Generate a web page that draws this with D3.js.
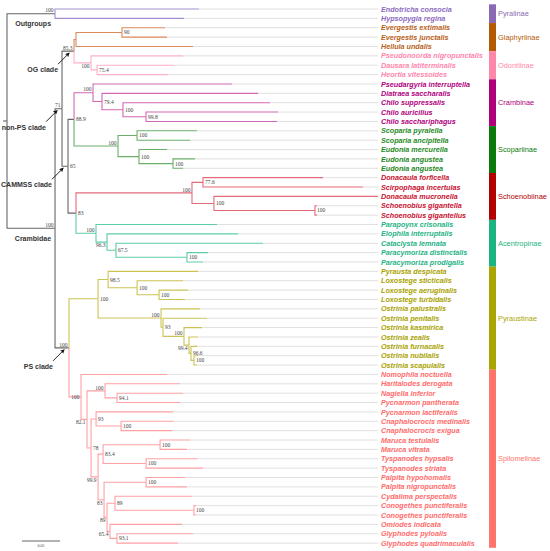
<!DOCTYPE html>
<html>
<head>
<meta charset="utf-8">
<script src="https://cdn.jsdelivr.net/npm/d3@7"></script>
<style>
  body { margin: 0; background: #fff; }
  .branch { fill: none; stroke-width: 1.1px; }
  .guide { stroke: #d8d8d8; stroke-width: 0.8px; }
  .taxon { font: italic bold 7.2px "Liberation Sans", Arial, sans-serif; }
  .support { font: 5.5px "Liberation Serif", "Times New Roman", serif; fill: #444; }
  .group-label { font: 7.4px "Liberation Sans", Arial, sans-serif; }
  .clade-label { font: bold 7px "Liberation Sans", Arial, sans-serif; fill: #333; }
</style>
</head>
<body>
<div id="chart"></div>
<script>
// ML tree, branch lengths in substitutions/site, node labels = bootstrap
const treeNewick = [
  "((Endotricha_consocia:0.1895,Hypsopygia_regina:0.1697)100:0.0632,",
  "(((((Evergestis_extimalis:0.0566,Evergestis_junctalis:0.0592)90:0.0605,Hellula_undalis:0.1539):0.0026,",
  "(Pseudonoorda_nigropunctalis:0.1211,(Dausara_latiterminalis:0.1013,Heortia_vitessoides:0.0934)75.4:0.0079)100:0.0224)85.3:0.0158,",
  "(((Pseudargyria_interruptella:0.1829,(Diatraea_saccharalis:0.2053,(Chilo_suppressalis:0.1934,(Chilo_auricilius:0.1737,Chilo_sacchariphagus:0.1724)99.8:0.0303)100:0.0276)79.4:0.0118)100:0.0250,",
  "((Scoparia_pyralella:0.0789,Scoparia_ancipitella:0.0697)100:0.0250,(Eudonia_mercurella:0.0368,(Eudonia_angustea:0.0289,Eudonia_angustea:0.0132)100:0.0447)100:0.0276)100:0.0579)88.9:0.0079,",
  "(((Donacaula_forficella:0.1579,Scirpophaga_incertulas:0.2105)77.6:0.0145,(Donacaula_mucronella:0.2158,(Schoenobius_gigantella:0.0026,Schoenobius_gigantellus:0.0026)100:0.1329)100:0.0289)100:0.1526,",
  "(Parapoynx_crisonalis:0.1592,(Elophila_interruptalis:0.1724,(Cataclysta_lemnata:0.1934,(Paracymoriza_distinctalis:0.0276,Paracymoriza_prodigalis:0.0211)100:0.0934)67.5:0.0118)96.3:0.0145)100:0.0263)83:0.0105)65:0.0079)71:0.0092,",
  "(((Pyrausta_despicata:0.1184,(Loxostege_sticticalis:0.0605,(Loxostege_aeruginalis:0.0382,Loxostege_turbidalis:0.0342)100:0.0289)100:0.0382)98.5:0.0132,",
  "(Ostrinia_palustralis:0.0513,(Ostrinia_penitalis:0.0579,(Ostrinia_kasmirica:0.0237,(Ostrinia_zealis:0.0118,(Ostrinia_furnacalis:0.0079,(Ostrinia_nubilalis:0.0053,Ostrinia_scapulalis:0.0039)100:0.0039)96.6:0.0026)99.4:0.0066)100:0.0276)93:0.0026)100:0.0829)100:0.0382,",
  "(Nomophila_noctuella:0.1132,((Haritalodes_derogata:0.0987,(Nagiella_inferior:0.0868,Pycnarmon_pantherata:0.0829)94.1:0.0158)100:0.0237,",
  "((Pycnarmon_lactiferalis:0.1013,(Cnaphalocrocis_medinalis:0.0684,Cnaphalocrocis_exigua:0.0671)100:0.0329)93:0.0066,",
  "(((Maruca_testulalis:0.0395,Maruca_vitrata:0.0355)100:0.0750,(Tyspanodes_hypsalis:0.0671,Tyspanodes_striata:0.0750)100:0.0566)83.4:0.0066,",
  "((Palpita_hypohomalis:0.0513,Palpita_nigropunctalis:0.0539)100:0.0553,((Cydalima_perspectalis:0.1013,(Conogethes_punctiferalis:0.0026,Conogethes_punctiferalis:0.0026)100:0.1039)89:0.0105,",
  "(Omiodes_indicata:0.0947,(Glyphodes_pyloalis:0.1000,Glyphodes_quadrimaculalis:0.0803)93.1:0.0092)65.4:0.0039)89:0.0039)83:0.0079)99.9:0.0092)78:0.0053)82.1:0.0079)100:0.0158)100:0.0184)100:0.0632);"
].join("");

const subfamilies = ["Pyralinae", "Glaphyriinae", "Odontiinae", "Crambinae", "Scopariinae",
  "Schoenobiinae", "Acentropinae", "Pyraustinae", "Spilomelinae"];
const subfamilyCounts = [2, 3, 3, 5, 5, 5, 5, 11, 19];

// clades named on the tree, keyed by leaf range
const cladeNotes = [
  { range: "0-1", text: "Outgroups", arrow: false },
  { range: "2-57", text: "Crambidae", arrow: false },
  { range: "2-7", text: "OG clade", arrow: true },
  { range: "2-27", text: "non-PS clade", arrow: true },
  { range: "8-27", text: "CAMMSS clade", arrow: true },
  { range: "28-57", text: "PS clade", arrow: true }
];
const scaleBarValue = 0.05;

// colours per subfamily
const textColors = ["#8c6bbf", "#b8611a", "#ff86ac", "#b0007e", "#1f8a1f", "#c8102e", "#1fb386", "#a9a200", "#ff6b6b"];
const barColors = ["#8a6ab5", "#b35a00", "#ff88aa", "#b0007a", "#0a7a0a", "#b30000", "#1db380", "#aaa400", "#ff756b"];
const branchColors = ["#a48fd3", "#d9895c", "#ffb0c8", "#d366b4", "#6aae6a", "#e46a78", "#5ccda6", "#cbc455", "#ffa0a5"];
const backbone = "#666";

// where each bootstrap value sits: R right of node, La left above, Lb left below, L left
const labelSide = {
  "0-1": "La", "2-57": "La", "2-27": "La", "2-7": "La", "5-7": "Lb", "8-12": "La", "13-17": "La",
  "18-22": "La", "23-27": "La", "24-27": "Lb", "28-57": "La", "32-38": "La", "34-38": "La",
  "35-38": "Lb", "39-57": "L", "40-57": "Lb", "40-42": "La", "46-57": "Lb", "50-57": "Lb",
  "52-57": "Lb", "55-57": "Lb"
};

function parseNewick(s) {
  const ancestors = [];
  let tree = {};
  const tokens = s.split(/\s*(;|\(|\)|,|:)\s*/);
  for (let i = 0; i < tokens.length; i++) {
    const t = tokens[i];
    switch (t) {
      case "(": {
        const sub = {};
        tree.children = [sub];
        ancestors.push(tree);
        tree = sub;
        break;
      }
      case ",": {
        const sub = {};
        ancestors[ancestors.length - 1].children.push(sub);
        tree = sub;
        break;
      }
      case ")":
        tree = ancestors.pop();
        break;
      case ":":
      case ";":
        break;
      default: {
        const prev = tokens[i - 1];
        if (prev === ")" || prev === "(" || prev === ",") tree.name = t;
        else if (prev === ":") tree.length = parseFloat(t);
      }
    }
  }
  return tree;
}

const width = 550;
const height = 551;

const x = d3.scaleLinear().domain([0, scaleBarValue]).range([7, 45]);
const y = d3.scaleLinear().domain([0, 57]).range([9, 543.1]);
const step = y(1) - y(0);
const guideEnd = 378;
const labelX = 381;
const barX = 489;

const leafSub = [];
subfamilyCounts.forEach((n, k) => { for (let i = 0; i < n; i++) leafSub.push(k); });

const root = d3.hierarchy(parseNewick(treeNewick));
root.eachBefore((d) => {
  d.len = d.parent ? d.parent.len + (d.data.length || 0) : 0;
  d.x = x(d.len);
});
root.leaves().forEach((d, i) => { d.idx = i; });
root.eachAfter((d) => {
  if (d.children) {
    const a = d.children[0];
    const b = d.children[d.children.length - 1];
    d.y = (a.y + b.y) / 2;
    d.first = a.first;
    d.last = b.last;
    d.sub = d.children.every((c) => c.sub === a.sub) ? a.sub : -1;
  } else {
    d.y = y(d.idx);
    d.first = d.last = d.idx;
    d.sub = leafSub[d.idx];
  }
});
const byRange = new Map();
root.each((d) => byRange.set(`${d.first}-${d.last}`, d));

const svg = d3.select("#chart").append("svg")
  .attr("width", width)
  .attr("height", height)
  .attr("xmlns", "http://www.w3.org/2000/svg");

svg.append("rect").attr("width", width).attr("height", height).attr("fill", "#fff");

svg.append("defs").append("marker")
  .attr("id", "arrow")
  .attr("viewBox", "0 -5 10 10")
  .attr("refX", 8)
  .attr("markerWidth", 5)
  .attr("markerHeight", 5)
  .attr("orient", "auto")
  .append("path")
  .attr("d", "M0,-5L10,0L0,5L2,0")
  .attr("fill", "#111");

const leaves = root.leaves();

// grey guides from tips to names
svg.append("g").selectAll("line")
  .data(leaves)
  .join("line")
  .attr("class", "guide")
  .attr("x1", (d) => d.x)
  .attr("x2", guideEnd)
  .attr("y1", (d) => d.y)
  .attr("y2", (d) => d.y);

// root stub
svg.append("line")
  .attr("x1", root.x - 4).attr("x2", root.x)
  .attr("y1", root.y).attr("y2", root.y)
  .attr("stroke", backbone).attr("stroke-width", 1.1);

svg.append("g").selectAll("path")
  .data(root.links())
  .join("path")
  .attr("class", "branch")
  .attr("stroke", (d) => (d.source === root || d.target.sub < 0 ? backbone : branchColors[d.target.sub]))
  .attr("d", (d) => `M${d.source.x},${d.source.y}V${d.target.y}H${d.target.x}`);

// bootstrap values
const inner = root.descendants().filter((d) => d.children && d.data.name);
svg.append("g").selectAll("text")
  .data(inner)
  .join("text")
  .attr("class", "support")
  .each(function (d) {
    const side = labelSide[`${d.first}-${d.last}`] || "R";
    const el = d3.select(this);
    if (side === "R") {
      el.attr("x", d.x + 2).attr("y", d.y + 2);
    } else {
      const dy = side === "La" ? -1.3 : side === "Lb" ? 5 : 2;
      el.attr("x", d.x - 1.5).attr("y", d.y + dy).attr("text-anchor", "end");
    }
  })
  .text((d) => d.data.name);

// taxon names
svg.append("g").selectAll("text")
  .data(leaves)
  .join("text")
  .attr("class", "taxon")
  .attr("x", labelX)
  .attr("y", (d) => d.y + 2.6)
  .attr("fill", (d) => textColors[d.sub])
  .text((d) => d.data.name.replace(/_/g, " "));

// subfamily bars
const starts = d3.cumsum([0, ...subfamilyCounts]);
const bars = subfamilies.map((name, k) => ({ name, k, first: starts[k], last: starts[k + 1] - 1 }));
const barG = svg.append("g");
barG.selectAll("rect")
  .data(bars)
  .join("rect")
  .attr("x", barX)
  .attr("width", 7)
  .attr("y", (d) => y(d.first) - step / 2)
  .attr("height", (d) => y(d.last) - y(d.first) + step)
  .attr("fill", (d) => barColors[d.k]);
barG.selectAll("text")
  .data(bars)
  .join("text")
  .attr("class", "group-label")
  .attr("x", barX + 9)
  .attr("y", (d) => (y(d.first) + y(d.last)) / 2 + 2.6)
  .attr("fill", (d) => barColors[d.k])
  .text((d) => d.name);

// clade names and arrows
cladeNotes.forEach((c) => {
  const n = byRange.get(c.range);
  if (c.arrow) {
    const tx = n.x - 5;
    const ty = n.y + 2;
    svg.append("line")
      .attr("x1", tx - 11).attr("y1", ty + 11)
      .attr("x2", tx).attr("y2", ty)
      .attr("stroke", "#111").attr("stroke-width", 0.9)
      .attr("marker-end", "url(#arrow)");
    svg.append("text").attr("class", "clade-label")
      .attr("x", n.x - 16).attr("y", n.y + 21)
      .attr("text-anchor", "end").text(c.text);
  } else {
    svg.append("text").attr("class", "clade-label")
      .attr("x", n.x - 4).attr("y", n.y + 12.5)
      .attr("text-anchor", "end").text(c.text);
  }
});

// scale bar
const barLen = x(scaleBarValue) - x(0);
svg.append("line")
  .attr("x1", 22).attr("x2", 22 + barLen)
  .attr("y1", 541).attr("y2", 541)
  .attr("stroke", "#555").attr("stroke-width", 0.9);
svg.append("text")
  .attr("x", 22 + barLen / 2).attr("y", 547)
  .attr("text-anchor", "middle")
  .attr("font-family", "Liberation Serif, serif")
  .attr("font-size", 4)
  .attr("fill", "#444")
  .text(scaleBarValue);
</script>
</body>
</html>
